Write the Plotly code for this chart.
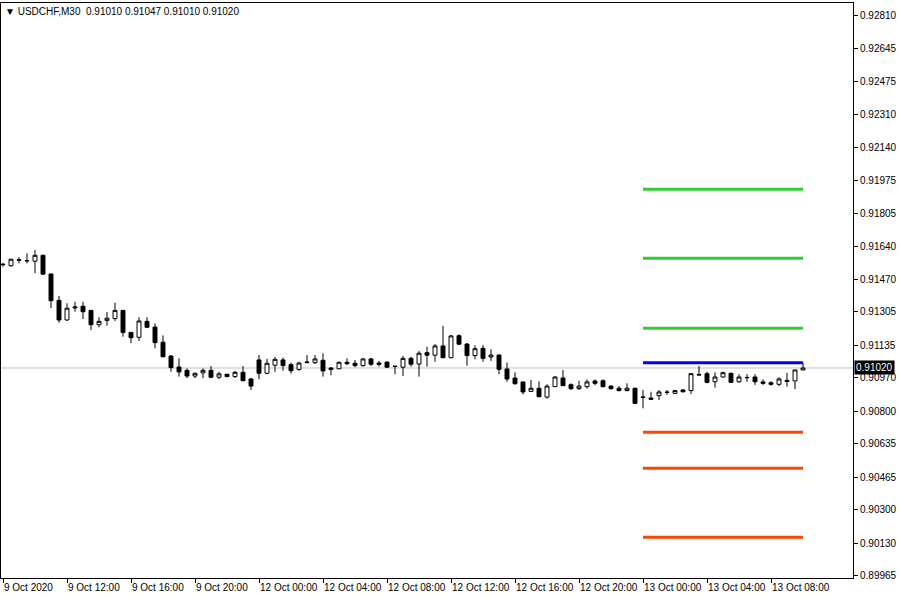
import plotly.graph_objects as go

# ---------------- data ----------------
symbol_title = "USDCHF,M30  0.91010 0.91047 0.91010 0.91020"

bar_index = list(range(101))

open_ = [0.91545, 0.91540, 0.91568, 0.91566, 0.91563, 0.91593, 0.91498, 0.91364, 0.91264, 0.91325,
         0.91334, 0.91313, 0.91240, 0.91262, 0.91271, 0.91313, 0.91201, 0.91176, 0.91257, 0.91228,
         0.91151, 0.91081, 0.91025, 0.91008, 0.90979, 0.90995, 0.91008, 0.90973, 0.90988, 0.90976,
         0.90998, 0.90964, 0.91061, 0.90993, 0.91034, 0.91061, 0.91037, 0.91013, 0.91047, 0.91047,
         0.91059, 0.91020, 0.91016, 0.91049, 0.91044, 0.91032, 0.91066, 0.91045, 0.91050, 0.91029,
         0.91024, 0.91069, 0.91040, 0.91098, 0.91085, 0.91132, 0.91072, 0.91184, 0.91142, 0.91083,
         0.91120, 0.91076, 0.91086, 0.91015, 0.90969, 0.90949, 0.90901, 0.90917, 0.90872, 0.90925,
         0.90969, 0.90935, 0.90915, 0.90925, 0.90954, 0.90955, 0.90928, 0.90917, 0.90905, 0.90917,
         0.90870, 0.90867, 0.90879, 0.90896, 0.90891, 0.90908, 0.90905, 0.90984, 0.90991, 0.90950,
         0.90974, 0.90993, 0.90950, 0.90972, 0.90974, 0.90949, 0.90945, 0.90937, 0.90957, 0.90954,
         0.91010]
high = [0.91555, 0.91575, 0.91583, 0.91603, 0.91620, 0.91596, 0.91500, 0.91386, 0.91349, 0.91357,
        0.91357, 0.91315, 0.91278, 0.91305, 0.91352, 0.91315, 0.91203, 0.91278, 0.91278, 0.91247,
        0.91186, 0.91085, 0.91069, 0.91018, 0.90996, 0.91018, 0.91030, 0.91001, 0.90990, 0.91005,
        0.91030, 0.90969, 0.91086, 0.91066, 0.91076, 0.91073, 0.91047, 0.91052, 0.91085, 0.91086,
        0.91095, 0.91025, 0.91052, 0.91069, 0.91061, 0.91069, 0.91071, 0.91056, 0.91054, 0.91032,
        0.91081, 0.91077, 0.91106, 0.91128, 0.91142, 0.91234, 0.91188, 0.91191, 0.91146, 0.91135,
        0.91137, 0.91115, 0.91088, 0.91047, 0.90998, 0.90950, 0.90959, 0.90952, 0.90937, 0.90979,
        0.91010, 0.90942, 0.90955, 0.90962, 0.90962, 0.90962, 0.90932, 0.90928, 0.90942, 0.90919,
        0.90908, 0.90899, 0.90908, 0.90908, 0.90908, 0.90913, 0.90993, 0.91030, 0.91001, 0.90998,
        0.91001, 0.90996, 0.90988, 0.90988, 0.90988, 0.90962, 0.90952, 0.90973, 0.90996, 0.91010,
        0.91047]
low = [0.91535, 0.91535, 0.91552, 0.91552, 0.91502, 0.91495, 0.91325, 0.91250, 0.91260, 0.91306,
       0.91269, 0.91213, 0.91227, 0.91235, 0.91259, 0.91179, 0.91146, 0.91157, 0.91225, 0.91120,
       0.91074, 0.91001, 0.90976, 0.90968, 0.90968, 0.90968, 0.90968, 0.90963, 0.90974, 0.90969,
       0.90954, 0.90908, 0.90963, 0.90988, 0.91000, 0.91006, 0.90991, 0.91006, 0.91044, 0.91040,
       0.90976, 0.90983, 0.91013, 0.91035, 0.91024, 0.91027, 0.91030, 0.91027, 0.91020, 0.90988,
       0.90979, 0.91027, 0.90976, 0.91027, 0.91052, 0.91072, 0.91070, 0.91137, 0.91032, 0.91064,
       0.91052, 0.91056, 0.90988, 0.90950, 0.90935, 0.90886, 0.90900, 0.90871, 0.90864, 0.90924,
       0.90929, 0.90908, 0.90908, 0.90915, 0.90932, 0.90922, 0.90910, 0.90901, 0.90901, 0.90838,
       0.90815, 0.90860, 0.90857, 0.90883, 0.90888, 0.90896, 0.90888, 0.90983, 0.90942, 0.90920,
       0.90971, 0.90944, 0.90945, 0.90950, 0.90934, 0.90934, 0.90930, 0.90928, 0.90925, 0.90912,
       0.91010]
close = [0.91547, 0.91573, 0.91570, 0.91565, 0.91593, 0.91497, 0.91362, 0.91264, 0.91324, 0.91330,
         0.91306, 0.91240, 0.91257, 0.91273, 0.91313, 0.91201, 0.91174, 0.91259, 0.91227, 0.91149,
         0.91077, 0.91022, 0.91000, 0.90979, 0.90993, 0.91008, 0.90973, 0.90990, 0.90976, 0.90998,
         0.90955, 0.90928, 0.90993, 0.91044, 0.91064, 0.91032, 0.91006, 0.91045, 0.91050, 0.91066,
         0.91005, 0.91013, 0.91049, 0.91042, 0.91032, 0.91066, 0.91039, 0.91039, 0.91024, 0.91028,
         0.91069, 0.91039, 0.91095, 0.91085, 0.91132, 0.91072, 0.91183, 0.91141, 0.91083, 0.91118,
         0.91069, 0.91086, 0.91013, 0.90964, 0.90940, 0.90898, 0.90917, 0.90874, 0.90928, 0.90974,
         0.90930, 0.90915, 0.90928, 0.90949, 0.90942, 0.90925, 0.90915, 0.90905, 0.90917, 0.90840,
         0.90872, 0.90861, 0.90898, 0.90897, 0.90905, 0.90899, 0.90991, 0.90986, 0.90947, 0.90974,
         0.90996, 0.90947, 0.90974, 0.90971, 0.90950, 0.90942, 0.90937, 0.90964, 0.90952, 0.91010,
         0.91020]

time_tick_index = [0, 8, 16, 24, 32, 40, 48, 56, 64, 72, 80, 88, 96]
time_tick_labels = ["9 Oct 2020", "9 Oct 12:00", "9 Oct 16:00", "9 Oct 20:00",
                    "12 Oct 00:00", "12 Oct 04:00", "12 Oct 08:00", "12 Oct 12:00",
                    "12 Oct 16:00", "12 Oct 20:00", "13 Oct 00:00", "13 Oct 04:00",
                    "13 Oct 08:00"]

price_ticks = [0.92810, 0.92645, 0.92475, 0.92310, 0.92140, 0.91975, 0.91805, 0.91640,
               0.91470, 0.91305, 0.91135, 0.90970, 0.90800, 0.90635, 0.90465, 0.90300,
               0.90130, 0.89965]

current_price = 0.91020
y_range = [0.89952, 0.92876]
x_range = [-0.25, 106.25]

green_levels = [0.91929, 0.91578, 0.91222]
blue_levels = [0.91046]
red_levels = [0.90693, 0.90510, 0.90159]
level_start_index = 80
level_end_index = 100

# ---------------- figure ----------------
FONT = "Liberation Sans"
fig = go.Figure()

fig.add_trace(go.Candlestick(
    x=bar_index, open=open_, high=high, low=low, close=close,
    increasing=dict(fillcolor="white", line=dict(color="black", width=1)),
    decreasing=dict(fillcolor="black", line=dict(color="black", width=1)),
    whiskerwidth=0, showlegend=False, hoverinfo="skip",
))

for levels, color in ((green_levels, "#32CD32"), (blue_levels, "#0000FF"), (red_levels, "#FF4500")):
    for lv in levels:
        fig.add_trace(go.Scatter(
            x=[level_start_index, level_end_index], y=[lv, lv], mode="lines",
            line=dict(color=color, width=3), showlegend=False, hoverinfo="skip",
        ))

fig.add_shape(type="line", xref="paper", x0=0, x1=1, yref="y", y0=current_price, y1=current_price,
              line=dict(color="#C0C0C0", width=1), layer="below")

fig.add_annotation(xref="paper", x=1.0, xanchor="left", xshift=1, yref="y", y=current_price,
                   yanchor="middle", text=f"{current_price:.5f}", showarrow=False,
                   font=dict(family=FONT, size=10, color="white"), bgcolor="black",
                   borderpad=1)

fig.add_annotation(xref="paper", x=0, xanchor="left", xshift=2, yref="paper", y=1, yanchor="top",
                   yshift=-1, text="\u25BC " + symbol_title.replace(" ", "\u00a0"), showarrow=False,
                   font=dict(family=FONT, size=10, color="black"))

fig.update_layout(
    width=900, height=600,
    margin=dict(l=1, r=47, t=3, b=22, autoexpand=False),
    paper_bgcolor="white", plot_bgcolor="white",
    font=dict(family=FONT, size=10, color="black"),
    xaxis=dict(range=x_range, rangeslider=dict(visible=False), showgrid=False, zeroline=False,
               automargin=False, tickangle=0,
               tickmode="array", tickvals=time_tick_index, ticktext=time_tick_labels,
               ticks="outside", ticklen=4, tickcolor="black", ticklabelposition="outside right",
               showline=True, linecolor="black", linewidth=1, mirror=True,
               tickfont=dict(family=FONT, size=10, color="black")),
    yaxis=dict(range=y_range, side="right", showgrid=False, zeroline=False,
               automargin=False,
               tickmode="array", tickvals=price_ticks, ticktext=[f"{v:.5f}" for v in price_ticks],
               ticks="outside", ticklen=4, tickcolor="black",
               showline=True, linecolor="black", linewidth=1, mirror=True,
               tickfont=dict(family=FONT, size=10, color="black")),
)

fig.write_html("out.html", config={"displayModeBar": False},
               post_script="document.body.style.margin='0';document.body.style.overflow='hidden';")
